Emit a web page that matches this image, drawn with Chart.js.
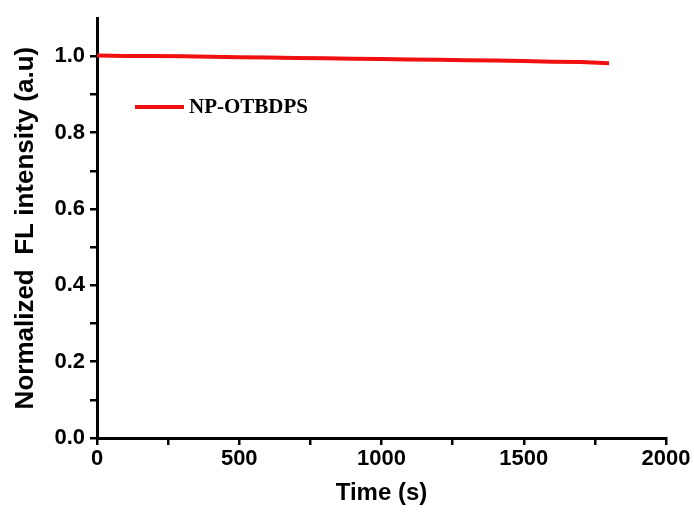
<!DOCTYPE html>
<html>
<head>
<meta charset="utf-8">
<script src="https://cdn.jsdelivr.net/npm/chart.js@4"></script>
<style>
  html, body { margin: 0; padding: 0; background: #fff; }
  #wrap { width: 694px; height: 512px; }
</style>
</head>
<body>
<div id="wrap"><canvas id="c" width="694" height="512"></canvas></div>
<script>
const timeSec = [0, 100, 200, 300, 400, 500, 600, 700, 800, 900, 1000, 1100, 1200, 1300, 1400, 1500, 1600, 1700, 1800];
const flIntensity = [1.002, 1.001, 1.001, 1.000, 0.999, 0.998, 0.997, 0.996, 0.995, 0.994, 0.993, 0.992, 0.991, 0.990, 0.989, 0.988, 0.986, 0.985, 0.982];
const seriesLabel = 'NP-OTBDPS';
const xTicks = [0, 500, 1000, 1500, 2000];
const yTicks = [0.0, 0.2, 0.4, 0.6, 0.8, 1.0];

const points = timeSec.map((t, i) => ({ x: t, y: flIntensity[i] }));
const sans = 'Arial, "Liberation Sans", sans-serif';

function isMajor(v, list) {
  return list.some(m => Math.abs(m - v) < 1e-6);
}

// legend drawn inside the plot, like the original
const innerLegend = {
  id: 'innerLegend',
  afterDraw(chart) {
    const ctx = chart.ctx;
    const ds = chart.data.datasets[0];
    ctx.save();
    ctx.strokeStyle = ds.borderColor;
    ctx.lineWidth = 4;
    ctx.beginPath();
    ctx.moveTo(135, 107); ctx.lineTo(184, 107);
    ctx.stroke();
    ctx.fillStyle = '#000';
    ctx.font = 'bold 21px "Liberation Serif", "Times New Roman", serif';
    ctx.textBaseline = 'middle';
    ctx.fillText(ds.label, 189, 108);
    ctx.restore();
  }
};

new Chart(document.getElementById('c'), {
  type: 'line',
  data: {
    datasets: [{
      label: seriesLabel,
      data: points,
      borderColor: '#f01010',
      borderWidth: 4,
      pointRadius: 0,
      tension: 0,
      fill: false
    }]
  },
  options: {
    responsive: false,
    animation: false,
    layout: { padding: { top: 17, right: 28, left: 0, bottom: 4 } },
    plugins: { legend: { display: false }, tooltip: { enabled: false } },
    scales: {
      x: {
        type: 'linear',
        min: 0, max: 2000,
        afterFit: (s) => { s.height = 70; },
        border: { display: true, color: '#000', width: 3 },
        grid: {
          drawOnChartArea: false, drawTicks: true, tickLength: 7,
          color: '#000', lineWidth: 2.5
        },
        ticks: {
          stepSize: 250,
          color: '#000',
          font: { family: sans, size: 22, weight: 'bold' },
          padding: 1,
          maxRotation: 0,
          autoSkip: false,
          callback: (v) => isMajor(v, xTicks) ? String(v) : ''
        },
        title: {
          display: true, text: 'Time (s)', color: '#000',
          font: { family: sans, size: 24, weight: 'bold' },
          padding: { top: 0, bottom: 0 }
        }
      },
      y: {
        min: 0, max: 1.1,
        afterFit: (s) => { s.width = 97; },
        border: { display: true, color: '#000', width: 3 },
        grid: {
          drawOnChartArea: false, drawTicks: true, tickLength: 7,
          color: (c) => (c.tick && c.tick.value > 1.05) ? 'rgba(0,0,0,0)' : '#000',
          lineWidth: 2.5
        },
        ticks: {
          stepSize: 0.1,
          color: '#000',
          font: { family: sans, size: 22, weight: 'bold' },
          padding: 5,
          autoSkip: false,
          callback: (v) => isMajor(v, yTicks) ? v.toFixed(1) : ''
        },
        title: {
          display: true, text: 'Normalized  FL intensity (a.u)', color: '#000',
          font: { family: sans, size: 26, weight: 'bold' },
          padding: { top: 10, bottom: 0 }
        }
      }
    }
  },
  plugins: [innerLegend]
});
</script>
</body>
</html>
